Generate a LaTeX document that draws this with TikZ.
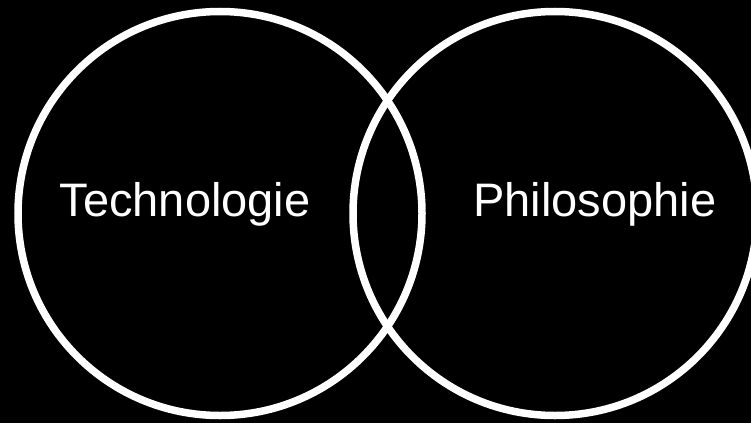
\documentclass[tikz,border=0pt]{standalone}
\usepackage{fontspec}
\setmainfont{Liberation Sans}
\usepackage{tikz}
\usetikzlibrary{positioning}

\begin{document}
\begin{tikzpicture}[
  x=1pt, y=-1pt,
  ring/.style={circle, draw=white, line width=7.5pt, minimum size=404pt, inner sep=0pt},
  lbl/.style={text=white, font=\fontsize{47}{56}\selectfont, inner sep=0pt, anchor=base},
]

% ---- background ----
\fill[black] (0,0) rectangle (751,423);
\useasboundingbox (0,0) rectangle (751,423);

% ---- the two sets ----
\node[ring] (TECH) at (220,213.5) {};
\node[ring] (PHIL) at (555,213.5) {};

% ---- labels ----
\node[lbl] (tTech) at (185,216.5) {Technologie};
\node[lbl] (tPhil) at (595,216.5) {Philosophie};

\end{tikzpicture}
\end{document}
